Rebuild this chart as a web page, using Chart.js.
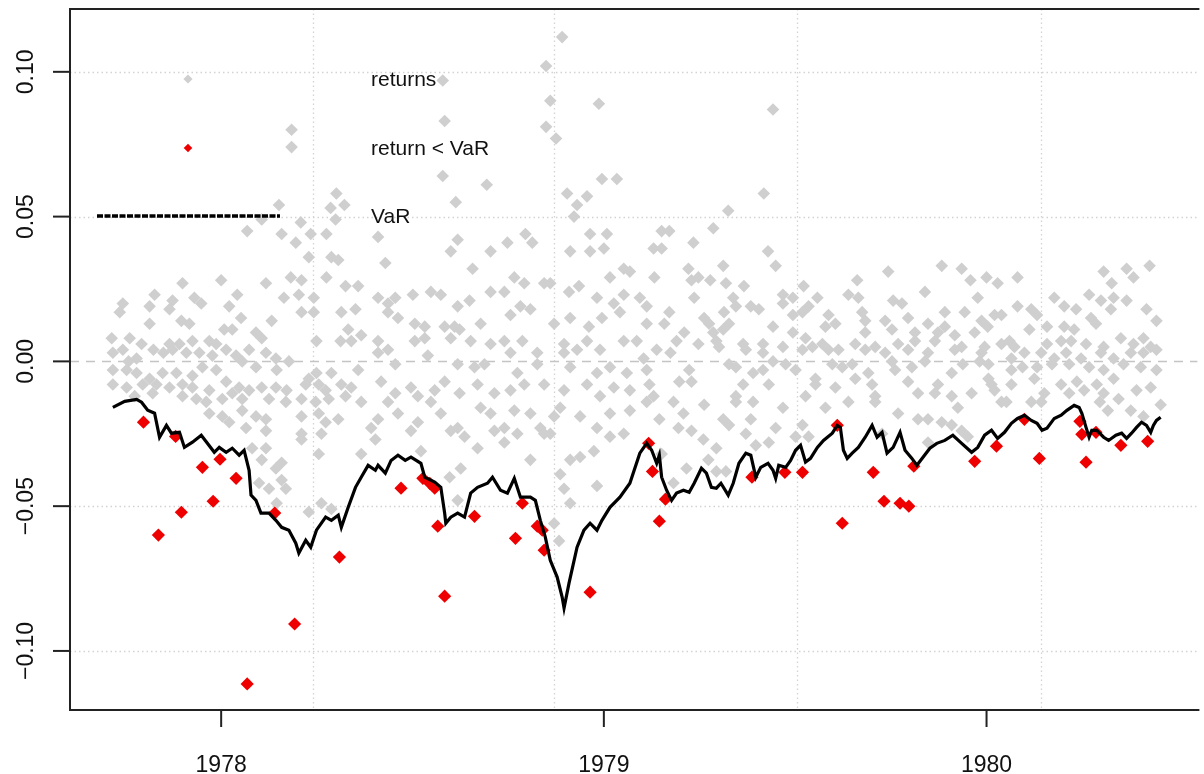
<!DOCTYPE html>
<html>
<head>
<meta charset="utf-8">
<script src="https://cdn.jsdelivr.net/npm/chart.js@4/dist/chart.umd.min.js"></script>
<style>
  html, body { margin: 0; padding: 0; background: #fff; overflow: hidden; }
  #wrap { width: 1204px; height: 774px; }
</style>
</head>
<body>
<div id="wrap"><canvas id="varChart" width="1204" height="774"></canvas></div>
<script>
// axis ranges and ticks (decimal years / daily returns)
const xMin = 1977.605, xMax = 1980.551;
const yMin = -0.1204, yMax = 0.1217;
const xTicks = [1978, 1979, 1980];
const xTickLabels = ['1978', '1979', '1980'];
const xGridLines = [1978.239, 1978.870, 1979.504, 1980.143];
const yTicks = [-0.10, -0.05, 0, 0.05, 0.10];
const yTickLabels = ['\u22120.10', '\u22120.05', '0.00', '0.05', '0.10'];
const yGridLines = [-0.10, -0.05, 0.05, 0.10];
const legendLabels = ['returns', 'return < VaR', 'VaR'];

// VaR estimate [year, value]
const varLine = [
  [1977.717,-0.0159],[1977.748,-0.0138],[1977.779,-0.0131],[1977.792,-0.0141],[1977.808,-0.0169],[1977.826,-0.0179],[1977.839,-0.0262],[1977.857,-0.0221],[1977.870,-0.0248],[1977.891,-0.0245],
  [1977.904,-0.0297],[1977.925,-0.0279],[1977.948,-0.0255],[1977.964,-0.0283],[1977.982,-0.0314],[1977.995,-0.0297],[1978.013,-0.0314],[1978.029,-0.0300],[1978.047,-0.0324],[1978.060,-0.0307],
  [1978.073,-0.0376],[1978.078,-0.0462],[1978.091,-0.0480],[1978.104,-0.0524],[1978.125,-0.0524],[1978.143,-0.0549],[1978.158,-0.0573],[1978.177,-0.0583],[1978.195,-0.0628],[1978.203,-0.0662],
  [1978.221,-0.0618],[1978.234,-0.0642],[1978.249,-0.0583],[1978.273,-0.0538],[1978.288,-0.0549],[1978.306,-0.0531],[1978.314,-0.0573],[1978.332,-0.0504],[1978.351,-0.0435],[1978.366,-0.0400],
  [1978.384,-0.0359],[1978.403,-0.0376],[1978.410,-0.0359],[1978.429,-0.0386],[1978.444,-0.0342],[1978.462,-0.0324],[1978.481,-0.0342],[1978.496,-0.0331],[1978.522,-0.0352],[1978.532,-0.0400],
  [1978.558,-0.0417],[1978.574,-0.0435],[1978.584,-0.0524],[1978.587,-0.0559],[1978.600,-0.0538],[1978.618,-0.0524],[1978.636,-0.0538],[1978.652,-0.0455],[1978.670,-0.0435],[1978.696,-0.0421],
  [1978.709,-0.0400],[1978.730,-0.0445],[1978.748,-0.0455],[1978.766,-0.0404],[1978.782,-0.0469],[1978.808,-0.0469],[1978.821,-0.0480],[1978.834,-0.0549],[1978.847,-0.0607],[1978.860,-0.0687],
  [1978.878,-0.0745],[1978.891,-0.0814],[1978.896,-0.0852],[1978.909,-0.0766],[1978.930,-0.0642],[1978.948,-0.0583],[1978.964,-0.0559],[1978.982,-0.0583],[1978.995,-0.0549],[1979.016,-0.0504],
  [1979.042,-0.0469],[1979.068,-0.0421],[1979.094,-0.0317],[1979.112,-0.0283],[1979.125,-0.0307],[1979.138,-0.0352],[1979.145,-0.0324],[1979.151,-0.0400],[1979.164,-0.0445],[1979.177,-0.0480],
  [1979.190,-0.0455],[1979.208,-0.0445],[1979.223,-0.0452],[1979.236,-0.0421],[1979.255,-0.0369],[1979.268,-0.0386],[1979.281,-0.0435],[1979.294,-0.0438],[1979.306,-0.0421],[1979.325,-0.0462],
  [1979.338,-0.0421],[1979.353,-0.0352],[1979.371,-0.0317],[1979.384,-0.0324],[1979.397,-0.0400],[1979.410,-0.0366],[1979.429,-0.0352],[1979.442,-0.0376],[1979.449,-0.0404],[1979.457,-0.0359],
  [1979.475,-0.0366],[1979.488,-0.0342],[1979.501,-0.0307],[1979.514,-0.0290],[1979.527,-0.0348],[1979.540,-0.0335],[1979.558,-0.0297],[1979.574,-0.0273],[1979.597,-0.0248],[1979.610,-0.0221],
  [1979.618,-0.0228],[1979.626,-0.0307],[1979.636,-0.0335],[1979.649,-0.0317],[1979.665,-0.0297],[1979.683,-0.0262],[1979.701,-0.0221],[1979.714,-0.0262],[1979.727,-0.0245],[1979.740,-0.0317],
  [1979.756,-0.0297],[1979.774,-0.0245],[1979.787,-0.0307],[1979.805,-0.0335],[1979.818,-0.0359],[1979.834,-0.0331],[1979.852,-0.0300],[1979.870,-0.0283],[1979.891,-0.0273],[1979.912,-0.0255],
  [1979.935,-0.0283],[1979.961,-0.0314],[1979.977,-0.0297],[1979.995,-0.0255],[1980.013,-0.0238],[1980.029,-0.0266],[1980.047,-0.0245],[1980.065,-0.0214],[1980.081,-0.0197],[1980.099,-0.0186],
  [1980.117,-0.0204],[1980.132,-0.0214],[1980.145,-0.0238],[1980.158,-0.0231],[1980.177,-0.0197],[1980.195,-0.0186],[1980.210,-0.0169],[1980.229,-0.0152],[1980.242,-0.0159],[1980.249,-0.0179],
  [1980.260,-0.0228],[1980.268,-0.0262],[1980.275,-0.0238],[1980.288,-0.0238],[1980.306,-0.0262],[1980.319,-0.0273],[1980.338,-0.0255],[1980.353,-0.0248],[1980.366,-0.0266],[1980.379,-0.0248],
  [1980.392,-0.0228],[1980.405,-0.0210],[1980.418,-0.0221],[1980.429,-0.0245],[1980.436,-0.0221],[1980.444,-0.0204],[1980.455,-0.0193]
];

// returns that fell below the VaR
const breachPoints = [
  [1977.797,-0.0210],[1977.836,-0.0600],[1977.881,-0.0259],[1977.896,-0.0521],[1977.951,-0.0366],[1977.979,-0.0483],[1977.997,-0.0338],[1978.039,-0.0404],[1978.068,-0.1114],[1978.140,-0.0524],
  [1978.192,-0.0907],[1978.309,-0.0676],[1978.470,-0.0438],[1978.527,-0.0404],[1978.545,-0.0421],[1978.558,-0.0438],[1978.566,-0.0569],[1978.584,-0.0811],[1978.662,-0.0535],[1978.769,-0.0611],
  [1978.787,-0.0490],[1978.826,-0.0569],[1978.839,-0.0583],[1978.844,-0.0652],[1978.964,-0.0797],[1979.117,-0.0283],[1979.127,-0.0380],[1979.145,-0.0552],[1979.161,-0.0476],[1979.387,-0.0400],
  [1979.473,-0.0383],[1979.519,-0.0383],[1979.610,-0.0221],[1979.623,-0.0559],[1979.704,-0.0383],[1979.732,-0.0483],[1979.774,-0.0490],[1979.797,-0.0500],[1979.810,-0.0362],[1979.969,-0.0345],
  [1980.026,-0.0293],[1980.099,-0.0200],[1980.138,-0.0335],[1980.244,-0.0207],[1980.249,-0.0252],[1980.260,-0.0348],[1980.286,-0.0245],[1980.351,-0.0290],[1980.421,-0.0276]
];

// daily returns [year, value]
const returnPoints = [
  // big moves
  [1978.579,0.097],[1978.891,0.112],[1978.849,0.102],[1978.860,0.090],[1978.987,0.089],[1978.584,0.083],[1978.849,0.081],[1978.875,0.077],[1978.184,0.080],[1978.184,0.074],[1979.442,0.087],
  // late 1977 - spring 1978
  [1978.301,0.058],[1978.322,0.054],[1978.286,0.053],[1978.151,0.054],[1978.299,0.049],[1978.106,0.049],[1978.068,0.045],[1978.158,0.044],[1978.208,0.048],[1978.234,0.044],[1978.275,0.044],[1978.195,0.041],[1978.229,0.036],[1978.288,0.036],[1978.306,0.035],
  [1977.899,0.027],[1978.000,0.028],[1978.117,0.027],[1978.182,0.029],[1978.210,0.028],[1978.275,0.029],[1977.826,0.023],[1977.873,0.021],[1977.930,0.022],[1977.948,0.020],[1978.042,0.023],[1978.164,0.022],[1978.203,0.023],[1978.242,0.022],[1978.325,0.026],[1978.358,0.026],
  [1977.743,0.020],[1977.813,0.019],[1977.865,0.018],[1978.021,0.019],[1977.735,0.017],[1977.896,0.014],[1977.917,0.013],[1978.052,0.015],[1978.132,0.014],[1978.210,0.017],[1978.242,0.017],[1978.314,0.017],[1978.351,0.018],[1977.813,0.013],
  [1978.008,0.011],[1978.029,0.011],[1978.091,0.010],[1978.106,0.008],[1978.332,0.011],[1978.366,0.009],[1977.714,0.008],[1977.761,0.008],[1977.792,0.006],[1977.865,0.006],[1977.891,0.006],[1977.925,0.007],[1977.969,0.007],[1977.987,0.006],[1978.249,0.007],[1978.312,0.007],[1978.340,0.007],
  [1977.717,0.003],[1977.743,0.004],[1977.758,0.000],[1977.779,0.001],[1977.823,0.004],[1977.849,0.003],[1977.873,0.004],[1977.909,0.003],[1977.943,0.003],[1977.977,0.002],[1978.013,0.004],[1978.039,0.002],[1978.073,0.004],[1978.117,0.003],[1978.143,0.001],[1978.177,0.000],
  [1977.717,-0.003],[1977.753,-0.003],[1977.779,-0.004],[1977.813,-0.006],[1977.847,-0.004],[1977.883,-0.004],[1977.925,-0.005],[1977.951,-0.002],[1977.987,-0.003],[1978.055,0.000],[1978.091,-0.002],[1978.145,-0.003],[1978.229,-0.006],[1978.249,-0.004],[1978.288,-0.004],[1978.358,-0.003],
  [1977.717,-0.008],[1977.753,-0.009],[1977.795,-0.008],[1977.831,-0.008],[1977.865,-0.009],[1977.899,-0.008],[1977.925,-0.009],[1977.969,-0.010],[1978.013,-0.007],[1978.047,-0.009],[1978.073,-0.010],[1978.106,-0.009],[1978.143,-0.009],[1978.171,-0.010],[1978.221,-0.008],[1978.255,-0.008],[1978.273,-0.010],[1978.314,-0.008],[1978.340,-0.009],
  [1977.774,-0.012],[1977.821,-0.011],[1977.899,-0.012],[1977.935,-0.013],[1977.961,-0.014],[1978.003,-0.013],[1978.029,-0.011],[1978.055,-0.013],[1978.125,-0.013],[1978.169,-0.014],[1978.210,-0.013],[1978.247,-0.014],[1978.281,-0.013],[1978.325,-0.012],[1978.366,-0.014],
  [1977.969,-0.018],[1978.003,-0.019],[1978.055,-0.017],[1978.091,-0.019],[1978.117,-0.020],[1978.210,-0.019],[1978.255,-0.018],[1978.273,-0.021],[1978.306,-0.020],[1978.021,-0.021],[1978.065,-0.023],[1978.117,-0.024],[1978.210,-0.025],[1978.262,-0.025],
  [1978.081,-0.030],[1978.117,-0.030],[1978.158,-0.035],[1978.210,-0.027],[1978.255,-0.032],[1978.366,-0.032],[1978.106,-0.034],
  [1978.158,-0.041],[1978.099,-0.042],[1978.169,-0.044],[1978.125,-0.044],[1978.145,-0.049],[1978.229,-0.052],[1978.262,-0.049],[1978.288,-0.051],[1978.143,-0.037],
  // mid 1978 - early 1979, upper half
  [1978.579,0.064],[1978.694,0.061],[1978.995,0.063],[1979.034,0.063],[1978.904,0.058],[1978.930,0.054],[1978.956,0.057],[1978.613,0.055],[1978.410,0.043],[1978.795,0.044],[1978.813,0.041],[1978.618,0.042],[1978.600,0.038],[1978.704,0.038],[1978.748,0.041],[1978.922,0.050],[1978.964,0.044],[1979.008,0.044],[1978.964,0.038],[1979.000,0.039],[1978.912,0.038],
  [1978.429,0.034],[1978.657,0.032],[1978.766,0.029],[1978.792,0.027],[1978.844,0.027],[1978.860,0.027],[1978.935,0.026],[1979.016,0.029],[1979.052,0.032],[1979.068,0.031],
  [1978.410,0.022],[1978.436,0.020],[1978.455,0.022],[1978.501,0.023],[1978.548,0.024],[1978.574,0.023],[1978.618,0.019],[1978.649,0.021],[1978.704,0.024],[1978.740,0.024],[1978.782,0.019],[1978.808,0.018],[1978.909,0.024],[1978.982,0.022],[1979.026,0.020],[1979.052,0.023],
  [1978.436,0.017],[1978.462,0.015],[1978.506,0.013],[1978.532,0.012],[1978.584,0.012],[1978.610,0.012],[1978.678,0.013],[1978.756,0.016],[1978.870,0.013],[1978.912,0.015],[1978.961,0.012],[1978.995,0.015],[1979.042,0.017],
  [1978.410,0.007],[1978.436,0.004],[1978.506,0.007],[1978.532,0.008],[1978.600,0.008],[1978.623,0.011],[1978.652,0.007],[1978.704,0.006],[1978.740,0.007],[1978.787,0.007],[1978.826,0.003],[1978.896,0.006],[1978.930,0.004],[1978.956,0.007],[1978.990,0.004],[1979.052,0.007],
  // mid 1978 - early 1979, lower half
  [1978.410,0.003],[1978.455,-0.001],[1978.540,0.002],[1978.618,-0.001],[1978.662,-0.002],[1978.688,-0.001],[1978.756,0.003],[1978.774,-0.004],[1978.826,-0.001],[1978.896,0.003],[1978.912,-0.002],[1978.982,-0.004],[1979.016,-0.002],[1979.060,-0.004],
  [1978.418,-0.007],[1978.455,-0.011],[1978.496,-0.009],[1978.514,-0.012],[1978.558,-0.010],[1978.584,-0.007],[1978.623,-0.011],[1978.670,-0.008],[1978.714,-0.011],[1978.756,-0.010],[1978.792,-0.008],[1978.844,-0.008],[1978.896,-0.010],[1978.956,-0.008],[1978.990,-0.012],[1979.026,-0.009],[1979.068,-0.010],
  [1978.410,-0.020],[1978.436,-0.014],[1978.462,-0.018],[1978.514,-0.021],[1978.548,-0.014],[1978.574,-0.018],[1978.618,-0.023],[1978.678,-0.016],[1978.704,-0.018],[1978.740,-0.023],[1978.766,-0.017],[1978.808,-0.018],[1978.834,-0.023],[1978.870,-0.019],[1978.886,-0.016],[1978.938,-0.019],[1978.982,-0.023],[1979.016,-0.018],[1979.068,-0.017],
  [1978.392,-0.023],[1978.403,-0.027],[1978.496,-0.024],[1978.522,-0.031],[1978.600,-0.024],[1978.636,-0.026],[1978.670,-0.030],[1978.714,-0.024],[1978.740,-0.028],[1978.774,-0.025],[1978.808,-0.034],[1978.844,-0.025],[1978.860,-0.025],[1978.886,-0.039],[1978.912,-0.034],[1978.938,-0.033],[1978.974,-0.031],[1979.016,-0.026],[1979.052,-0.025],
  [1978.597,-0.040],[1978.618,-0.048],[1978.626,-0.037],[1978.896,-0.044],[1978.912,-0.049],[1978.982,-0.043],[1978.870,-0.056],[1978.883,-0.062],
  // 1979
  [1979.418,0.058],[1979.325,0.052],[1979.286,0.046],[1979.151,0.045],[1979.171,0.045],[1979.130,0.039],[1979.151,0.039],[1979.234,0.041],[1979.429,0.038],[1979.449,0.033],[1979.312,0.033],[1979.221,0.032],[1979.132,0.029],[1979.229,0.028],[1979.247,0.029],[1979.278,0.028],[1979.319,0.027],[1979.366,0.026],
  [1979.743,0.031],[1979.883,0.033],[1979.935,0.032],[1979.958,0.028],[1980.000,0.029],[1980.029,0.027],[1979.662,0.028],[1979.522,0.026],[1979.468,0.023],[1979.494,0.022],[1979.558,0.022],[1979.639,0.023],[1979.665,0.022],[1979.756,0.021],[1979.839,0.024],[1979.977,0.022],
  [1979.094,0.022],[1979.112,0.019],[1979.236,0.022],[1979.338,0.022],[1979.384,0.019],[1979.405,0.018],[1979.468,0.020],[1979.535,0.019],[1979.779,0.020],[1979.943,0.017],[1980.021,0.016],[1980.039,0.016],[1979.171,0.017],[1979.262,0.015],[1979.314,0.017],[1979.345,0.019],[1979.587,0.016],[1979.675,0.017],[1979.795,0.015],[1979.891,0.017],
  [1979.112,0.013],[1979.158,0.013],[1979.275,0.013],[1979.327,0.013],[1979.442,0.012],[1979.494,0.016],[1979.519,0.017],[1979.605,0.013],[1979.683,0.014],[1979.735,0.014],[1979.847,0.013],[1979.891,0.012],[1979.987,0.014],[1980.003,0.012],
  [1979.210,0.010],[1979.286,0.010],[1979.312,0.011],[1979.494,0.010],[1979.527,0.008],[1979.579,0.012],[1979.683,0.010],[1979.753,0.011],[1979.813,0.010],[1979.873,0.010],[1979.917,0.009],[1979.969,0.010],
  [1979.086,0.007],[1979.190,0.007],[1979.247,0.006],[1979.294,0.007],[1979.364,0.006],[1979.416,0.006],[1979.468,0.005],[1979.545,0.005],[1979.571,0.006],[1979.657,0.006],[1979.709,0.005],[1979.769,0.006],[1979.813,0.007],[1979.865,0.007],[1979.935,0.005],[1979.995,0.005],[1980.039,0.006],
  [1979.138,0.004],[1979.174,0.003],[1979.301,0.005],[1979.371,0.004],[1979.416,0.003],[1979.519,0.004],[1979.587,0.004],[1979.613,0.004],[1979.683,0.004],[1979.735,0.003],[1979.795,0.004],[1979.847,0.003],[1979.917,0.004],[1979.987,0.003],
  [1979.104,0.001],[1979.327,-0.001],[1979.345,-0.002],[1979.442,0.000],[1979.475,-0.001],[1979.597,-0.001],[1979.623,-0.002],[1979.649,-0.001],[1979.753,0.000],[1979.839,0.000],[1979.938,-0.001],[1979.982,0.000],[1980.005,-0.001],
  [1979.112,-0.003],[1979.223,-0.003],[1979.390,-0.004],[1979.416,-0.003],[1979.501,-0.003],[1979.553,-0.006],[1979.657,-0.006],[1979.691,-0.004],[1979.761,-0.003],[1979.805,-0.002],[1979.909,-0.004],[1980.005,-0.006],
  [1979.119,-0.008],[1979.197,-0.007],[1979.229,-0.007],[1979.364,-0.008],[1979.431,-0.008],[1979.553,-0.008],[1979.605,-0.009],[1979.701,-0.008],[1979.795,-0.007],[1979.873,-0.008],[1980.013,-0.008],
  [1979.130,-0.012],[1979.345,-0.012],[1979.527,-0.012],[1979.709,-0.012],[1979.821,-0.011],[1979.865,-0.011],[1979.909,-0.012],[1979.961,-0.011],[1980.021,-0.010],
  [1979.112,-0.014],[1979.145,-0.020],[1979.182,-0.014],[1979.208,-0.018],[1979.195,-0.023],[1979.229,-0.024],[1979.262,-0.015],[1979.260,-0.027],[1979.294,-0.030],[1979.312,-0.020],[1979.327,-0.022],[1979.345,-0.014],[1979.371,-0.025],[1979.384,-0.020],[1979.390,-0.014],[1979.397,-0.029],[1979.431,-0.028],[1979.449,-0.023],
  [1979.468,-0.016],[1979.501,-0.026],[1979.535,-0.026],[1979.579,-0.016],[1979.519,-0.022],[1979.639,-0.014],[1979.709,-0.014],[1979.727,-0.025],[1979.769,-0.018],[1979.821,-0.020],[1979.847,-0.020],[1979.883,-0.021],[1979.909,-0.022],[1979.935,-0.024],[1979.847,-0.028],[1979.925,-0.016],[1980.039,-0.014],[1979.951,-0.026],
  [1979.216,-0.037],[1979.182,-0.042],[1979.273,-0.034],[1979.294,-0.038],[1979.319,-0.038],[1979.151,-0.032],
  // 1980
  [1980.081,0.029],[1980.306,0.031],[1980.366,0.032],[1980.426,0.033],[1980.384,0.029],[1980.327,0.027],[1980.268,0.023],[1980.299,0.021],[1980.177,0.022],[1980.203,0.019],[1980.234,0.018],[1980.332,0.022],[1980.366,0.021],[1980.325,0.018],[1980.418,0.018],[1980.444,0.014],[1980.081,0.019],[1980.117,0.018],[1980.132,0.016],[1980.273,0.015],
  [1980.112,0.011],[1980.158,0.012],[1980.203,0.012],[1980.229,0.011],[1980.286,0.013],[1980.060,0.007],[1980.351,0.008],[1980.410,0.008],[1980.073,0.005],[1980.158,0.006],[1980.195,0.007],[1980.221,0.007],[1980.260,0.006],[1980.306,0.005],[1980.384,0.006],[1980.429,0.005],
  [1980.065,0.001],[1980.099,0.003],[1980.143,0.003],[1980.177,0.001],[1980.208,0.003],[1980.247,0.001],[1980.299,0.003],[1980.332,0.001],[1980.377,0.003],[1980.410,0.003],[1980.444,0.004],
  [1980.065,-0.003],[1980.094,-0.002],[1980.132,-0.002],[1980.171,-0.001],[1980.216,-0.001],[1980.268,-0.002],[1980.306,-0.003],[1980.358,-0.001],[1980.403,-0.002],[1980.444,-0.003],
  [1980.065,-0.008],[1980.125,-0.006],[1980.195,-0.008],[1980.236,-0.007],[1980.288,-0.008],[1980.332,-0.006],[1980.392,-0.010],[1980.429,-0.009],[1980.151,-0.011],[1980.216,-0.011],[1980.255,-0.010],[1980.306,-0.011],[1980.345,-0.013],
  [1980.117,-0.014],[1980.143,-0.014],[1980.052,-0.014],[1980.377,-0.017],[1980.410,-0.019],[1980.455,-0.015],[1980.296,-0.014],[1980.317,-0.017]
];

const FONT = '"Liberation Sans", Arial, Helvetica, sans-serif';
const toXY = pts => pts.map(p => ({ x: p[0], y: p[1] }));

function diamond(ctx, x, y, r, color) {
  ctx.beginPath();
  ctx.moveTo(x - r, y);
  ctx.lineTo(x, y - r);
  ctx.lineTo(x + r, y);
  ctx.lineTo(x, y + r);
  ctx.closePath();
  ctx.fillStyle = color;
  ctx.fill();
}

// R-style box, dotted grid, ticks, labels and legend
const baseGraphics = {
  id: 'baseGraphics',
  beforeDatasetsDraw(chart) {
    const { ctx, chartArea: a, scales: { x, y } } = chart;
    ctx.save();
    ctx.strokeStyle = '#d3d3d3';
    ctx.lineWidth = 1.3;
    ctx.setLineDash([1.5, 3]);
    xGridLines.forEach(v => {
      const px = Math.round(x.getPixelForValue(v)) + 0.5;
      ctx.beginPath(); ctx.moveTo(px, a.top); ctx.lineTo(px, a.bottom); ctx.stroke();
    });
    yGridLines.forEach(v => {
      const py = Math.round(y.getPixelForValue(v)) + 0.5;
      ctx.beginPath(); ctx.moveTo(a.left, py); ctx.lineTo(a.right, py); ctx.stroke();
    });
    // zero line
    ctx.strokeStyle = '#c4c4c4';
    ctx.setLineDash([9, 7]);
    const p0 = Math.round(y.getPixelForValue(0)) + 0.5;
    ctx.beginPath(); ctx.moveTo(a.left, p0); ctx.lineTo(a.right, p0); ctx.stroke();
    ctx.restore();
  },
  afterDraw(chart) {
    const { ctx, chartArea: a, scales: { x, y } } = chart;
    ctx.save();
    ctx.strokeStyle = '#222';
    ctx.lineWidth = 2;
    ctx.beginPath();
    ctx.moveTo(a.right + 2, a.top); ctx.lineTo(a.left, a.top);
    ctx.lineTo(a.left, a.bottom); ctx.lineTo(a.right + 2, a.bottom);
    ctx.stroke();

    ctx.fillStyle = '#111';
    ctx.font = '23px ' + FONT;
    yTicks.forEach((v, i) => {
      const py = y.getPixelForValue(v);
      ctx.beginPath(); ctx.moveTo(a.left - 17, py); ctx.lineTo(a.left, py); ctx.stroke();
      ctx.save();
      ctx.translate(a.left - 37, py);
      ctx.rotate(-Math.PI / 2);
      ctx.textAlign = 'center';
      ctx.textBaseline = 'alphabetic';
      ctx.fillText(yTickLabels[i], 0, 0);
      ctx.restore();
    });
    ctx.textAlign = 'center';
    ctx.textBaseline = 'alphabetic';
    xTicks.forEach((v, i) => {
      const px = x.getPixelForValue(v);
      ctx.beginPath(); ctx.moveTo(px, a.bottom); ctx.lineTo(px, a.bottom + 17); ctx.stroke();
      ctx.fillText(xTickLabels[i], px, a.bottom + 62);
    });

    // legend
    const symX = a.left + 118, txtX = a.left + 301;
    const rows = [a.top + 70, a.top + 139, a.top + 207];
    diamond(ctx, symX, rows[0], 4.6, '#cfcfcf');
    diamond(ctx, symX, rows[1], 4.3, '#ee0000');
    ctx.strokeStyle = '#000';
    ctx.lineWidth = 3.5;
    ctx.setLineDash([6, 1.5]);
    ctx.beginPath(); ctx.moveTo(a.left + 27, rows[2]); ctx.lineTo(a.left + 210, rows[2]); ctx.stroke();
    ctx.setLineDash([]);
    ctx.font = '21px ' + FONT;
    ctx.textAlign = 'left';
    ctx.fillStyle = '#111';
    legendLabels.forEach((t, i) => ctx.fillText(t, txtX, rows[i] + 7));
    ctx.restore();
  }
};

new Chart(document.getElementById('varChart'), {
  type: 'scatter',
  data: {
    datasets: [
      { label: legendLabels[2], type: 'line', data: toXY(varLine), showLine: true, borderColor: '#000', borderWidth: 3.2,
        pointRadius: 0, fill: false, tension: 0, order: 0 },
      { label: legendLabels[1], data: toXY(breachPoints), pointStyle: 'rectRot', pointRadius: 6.6,
        backgroundColor: '#ee0000', borderWidth: 0, order: 1 },
      { label: legendLabels[0], data: toXY(returnPoints), pointStyle: 'rectRot', pointRadius: 6.3,
        backgroundColor: '#cfcfcf', borderWidth: 0, order: 2 }
    ]
  },
  options: {
    responsive: false,
    animation: false,
    events: [],
    layout: { padding: { top: 9, left: 0, right: 0, bottom: 0 } },
    plugins: { legend: { display: false }, tooltip: { enabled: false } },
    scales: {
      x: { type: 'linear', min: xMin, max: xMax, ticks: { display: false }, grid: { display: false },
           border: { display: false }, afterFit: s => { s.height = 64; } },
      y: { type: 'linear', min: yMin, max: yMax, ticks: { display: false }, grid: { display: false },
           border: { display: false }, afterFit: s => { s.width = 70; } }
    }
  },
  plugins: [baseGraphics]
});
</script>
</body>
</html>
